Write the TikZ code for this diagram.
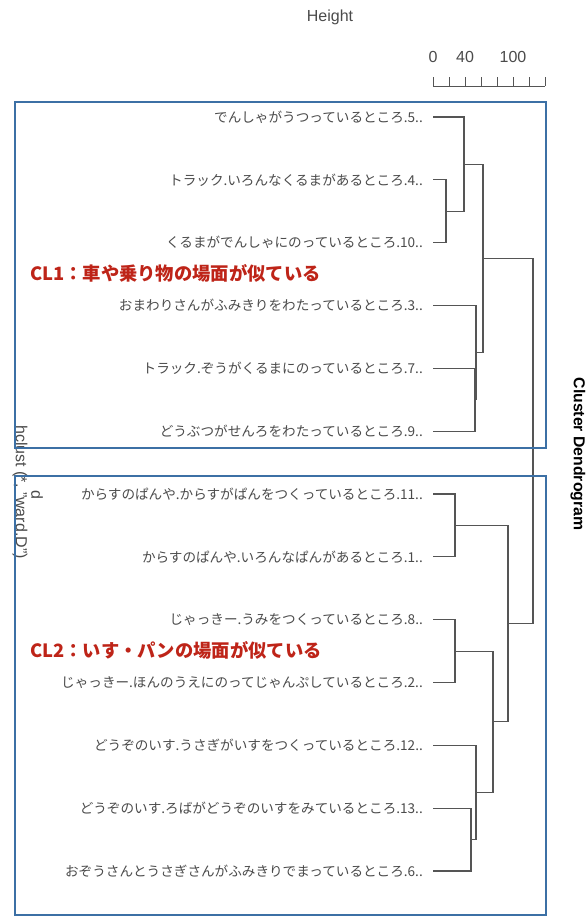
\documentclass[tikz,border=0pt]{standalone}
\usepackage{fontspec}
\setmainfont{Liberation Sans}
\newfontfamily\jp{Noto Sans CJK JP}
\definecolor{boxblue}{RGB}{60,112,165}
\definecolor{clred}{RGB}{190,36,24}
\definecolor{lbgray}{RGB}{75,75,75}
\definecolor{lngray}{RGB}{85,85,85}
\tikzset{
  lbl/.style={anchor=east,inner sep=0pt,text=lbgray,font=\jp\fontsize{13.6}{16}\selectfont},
  cltext/.style={anchor=west,inner sep=0pt,text=clred,font=\jp\bfseries\fontsize{18.3}{21}\selectfont},
  dline/.style={draw=lngray,line width=1.2pt},
  frame/.style={draw=boxblue,line width=2.6pt},
  axtxt/.style={inner sep=0pt,text=lbgray,font=\fontsize{16}{18}\selectfont},
  ttl/.style={inner sep=0pt,text=black,font=\bfseries\fontsize{15.8}{18}\selectfont,rotate=-90},
  sub/.style={inner sep=0pt,text=lbgray,font=\fontsize{16}{18}\selectfont,rotate=-90}
}
\begin{document}
\begin{tikzpicture}[x=1pt,y=-1pt]
\useasboundingbox (0,0) rectangle (587,918);
\fill[white] (0,0) rectangle (587,918);
% titles
\node[axtxt] (height) at (330,17) {Height};
\node[ttl] (title) at (578,454) {Cluster Dendrogram};
\node[sub] (subt) at (20,492) {hclust (*, "ward.D")};
\node[sub] (xl) at (37,495) {d};
% axis
\coordinate (a0) at (433,86);
\coordinate (a1) at (545,86);
\draw[dline,line width=1pt] (a0) -- (a1);
\foreach \k in {0,...,7}{
  \coordinate (tk\k) at (433+16*\k,86);
  \draw[dline,line width=1pt] (tk\k) -- ++(0,-9);
}
\node[axtxt] (v0) at (433,57) {0};
\node[axtxt] (v40) at (465,57) {40};
\node[axtxt] (v100) at (513,57) {100};
% leaves
\def\Y#1{117+62.83*#1}
\foreach \n/\i/\t in {
 5/0/{でんしゃがうつっているところ.5..},
 4/1/{トラック.いろんなくるまがあるところ.4..},
 10/2/{くるまがでんしゃにのっているところ.10..},
 3/3/{おまわりさんがふみきりをわたっているところ.3..},
 7/4/{トラック.ぞうがくるまにのっているところ.7..},
 9/5/{どうぶつがせんろをわたっているところ.9..},
 11/6/{からすのぱんや.からすがぱんをつくっているところ.11..},
 1/7/{からすのぱんや.いろんなぱんがあるところ.1..},
 8/8/{じゃっきー.うみをつくっているところ.8..},
 2/9/{じゃっきー.ほんのうえにのってじゃんぷしているところ.2..},
 12/10/{どうぞのいす.うさぎがいすをつくっているところ.12..},
 13/11/{どうぞのいす.ろばがどうぞのいすをみているところ.13..},
 6/12/{おぞうさんとうさぎさんがふみきりでまっているところ.6..}}{
  \node[lbl] (t\n) at (423,{\Y{\i}}) {\t};
  \coordinate (l\n) at (433,{\Y{\i}});
}
% merges
\coordinate (m410) at (446,211.2);
\coordinate (m5) at (464,164.1);
\coordinate (m79) at (475,399.7);
\coordinate (m3) at (476,352.6);
\coordinate (mA) at (483,258.4);
\coordinate (m111) at (455,525.4);
\coordinate (m82) at (455,651.1);
\coordinate (m136) at (471,839.6);
\coordinate (m12) at (476,792.5);
\coordinate (mB) at (493,721.8);
\coordinate (mC) at (508,623.6);
\coordinate (root) at (533,441);
\newcommand\mrg[3]{\draw[dline] (#1) -- (#1 -| #3) -- (#2 -| #3) -- (#2);}
\mrg{l4}{l10}{m410}
\mrg{l5}{m410}{m5}
\mrg{l7}{l9}{m79}
\mrg{l3}{m79}{m3}
\mrg{m5}{m3}{mA}
\mrg{l11}{l1}{m111}
\mrg{l8}{l2}{m82}
\mrg{l13}{l6}{m136}
\mrg{l12}{m136}{m12}
\mrg{m82}{m12}{mB}
\mrg{m111}{mB}{mC}
\mrg{mA}{mC}{root}
% frames
\draw[frame] (15,102) rectangle (546,448);
\draw[frame] (15,476) rectangle (546,915);
% cluster texts
\node[cltext] (cl1) at (30,273) {CL1：車や乗り物の場面が似ている};
\node[cltext] (cl2) at (30,650) {CL2：いす・パンの場面が似ている};
\end{tikzpicture}
\end{document}
